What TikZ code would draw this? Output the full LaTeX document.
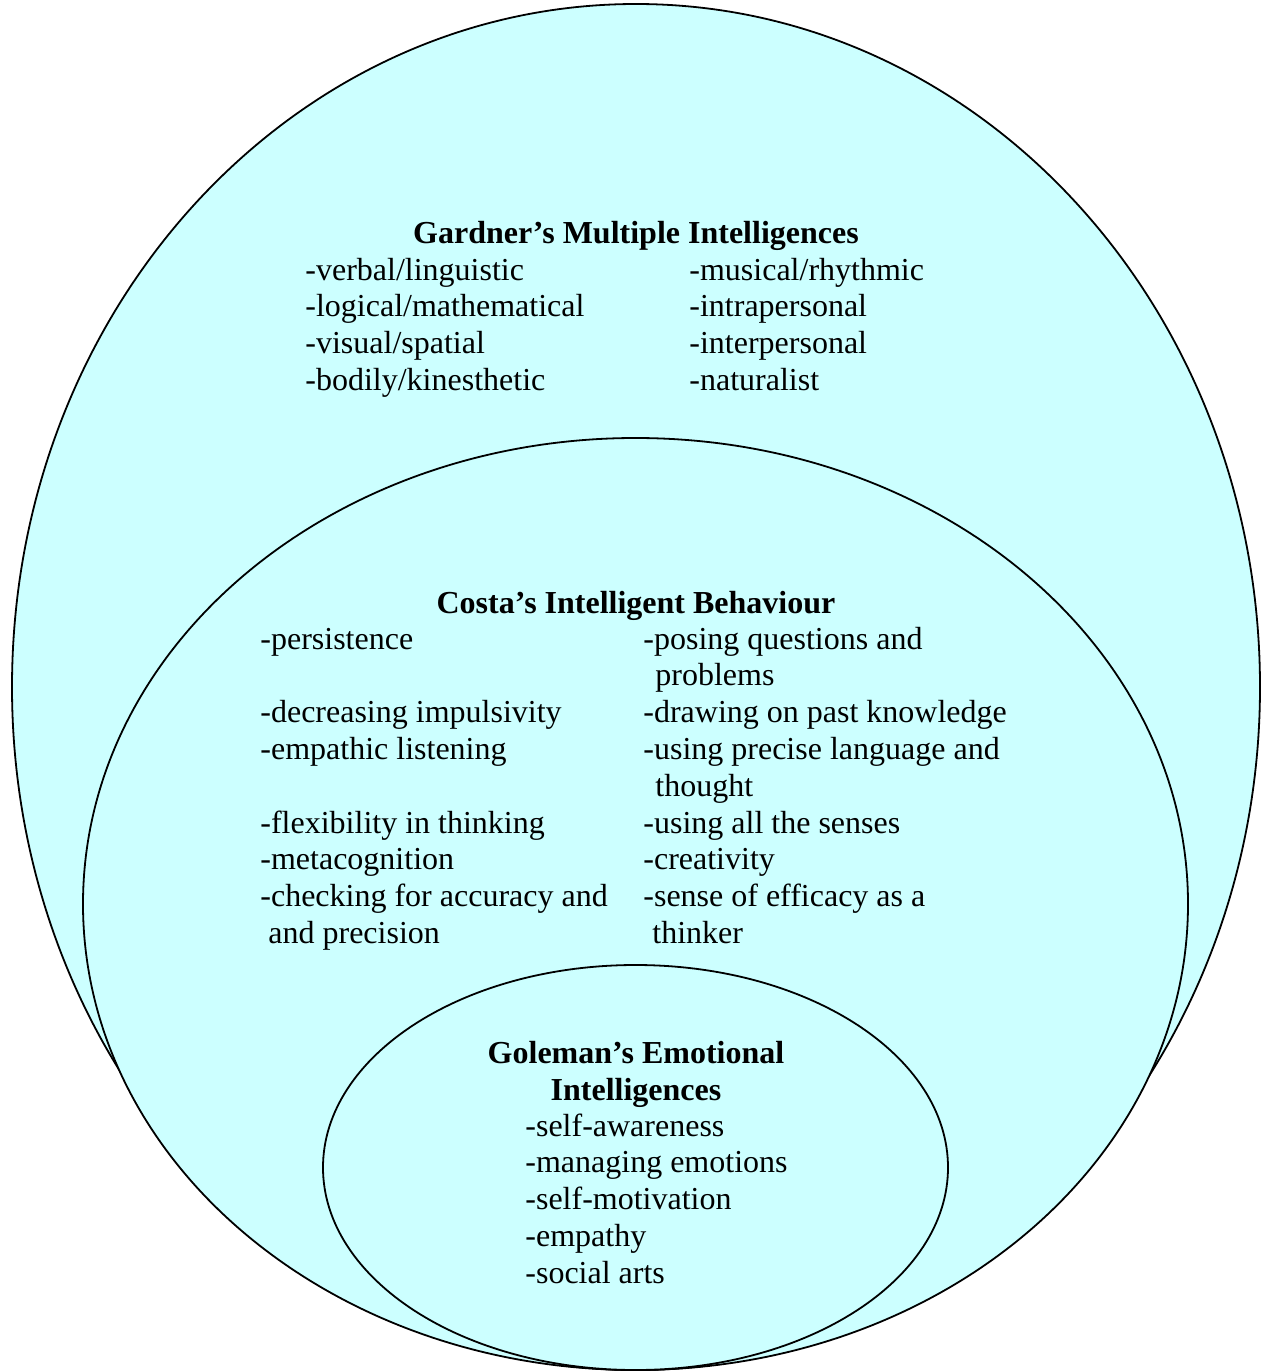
\documentclass[tikz,border=0pt]{standalone}
\usepackage{fontspec}
\setmainfont{Liberation Serif}
\usetikzlibrary{shapes.geometric}
\definecolor{paleblue}{HTML}{CCFFFF}

\begin{document}
\begin{tikzpicture}[
  x=0.5pt, y=0.5pt,
  ring/.style={draw, ellipse, fill=paleblue, line width=0.9pt, inner sep=0pt},
  head/.style={font=\fontsize{16}{18.4}\selectfont\bfseries, anchor=base, inner sep=0pt},
  item/.style={font=\fontsize{16}{18.4}\selectfont, anchor=base west, inner sep=0pt}
]
\useasboundingbox (0,0) rectangle (1262,-1371);

% the three rings
\node[ring, minimum width=624pt, minimum height=683pt] (gardner) at (636,-687) {};
\node[ring, minimum width=552.5pt, minimum height=466pt] (costa) at (635.5,-904) {};
\node[ring, minimum width=312.5pt, minimum height=202.5pt] (goleman) at (635.5,-1167.5) {};

% Gardner
\node[head] (gardnertitle) at (636,-243) {Gardner’s Multiple Intelligences};
\foreach \t [count=\i from 0] in {-verbal/linguistic, -logical/mathematical, -visual/spatial, -bodily/kinesthetic}
  \node[item] (gl\i) at (305,-280-36.8*\i) {\t};
\foreach \t [count=\i from 0] in {-musical/rhythmic, -intrapersonal, -interpersonal, -naturalist}
  \node[item] (gr\i) at (689,-280-36.8*\i) {\t};

% Costa
\node[head] (costatitle) at (636,-613) {Costa’s Intelligent Behaviour};
\foreach \t [count=\i from 0] in {-persistence, , -decreasing impulsivity, -empathic listening, , -flexibility in thinking, -metacognition, -checking for accuracy and, \hspace{4pt}and precision}
  \node[item] (cl\i) at (260,-649-36.8*\i) {\t};
\foreach \t [count=\i from 0] in {-posing questions and, \hspace{6pt}problems, -drawing on past knowledge, -using precise language and, \hspace{6pt}thought, -using all the senses, -creativity, -sense of efficacy as a, \hspace{4.5pt}thinker}
  \node[item] (cr\i) at (643,-649-36.8*\i) {\t};

% Goleman
\node[head] (goletitle) at (636,-1063) {Goleman’s Emotional};
\node[head] (goletitleb) at (636,-1100) {Intelligences};
\foreach \t [count=\i from 0] in {-self-awareness, -managing emotions, -self-motivation, -empathy, -social arts}
  \node[item] (el\i) at (525,-1136-36.8*\i) {\t};
\end{tikzpicture}
\end{document}
